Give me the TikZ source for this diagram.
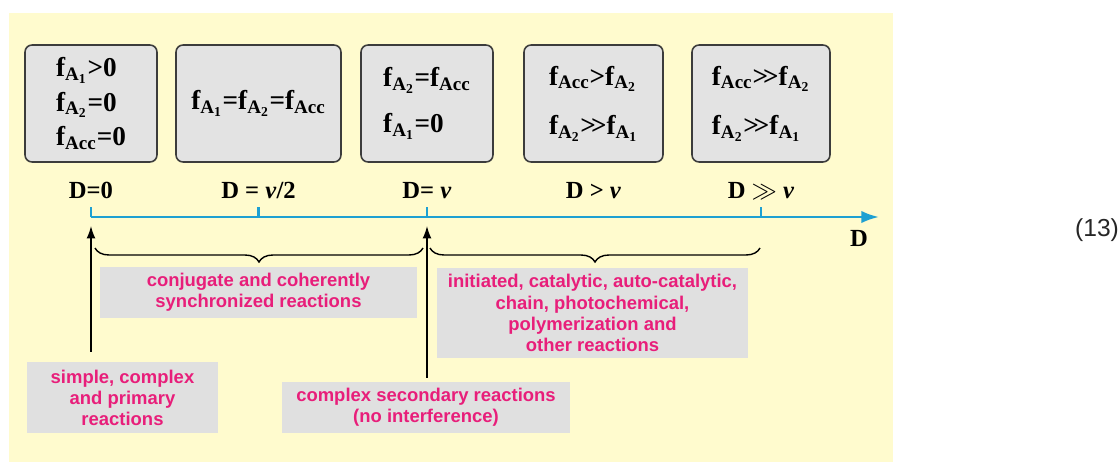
\documentclass[tikz,border=0pt]{standalone}
\usepackage{amsmath}
\usepackage{fontspec}
\setmainfont{Liberation Serif}
\setsansfont{Liberation Sans}
\usetikzlibrary{arrows.meta, positioning, decorations.pathreplacing, calc}
\definecolor{bgyellow}{RGB}{255, 251, 206}
\definecolor{boxgray}{RGB}{227, 227, 227}
\definecolor{edgegray}{RGB}{60, 60, 60}
\definecolor{taggray}{RGB}{224, 224, 224}
\definecolor{tagpink}{RGB}{232, 30, 122}
\definecolor{axisblue}{RGB}{30, 160, 210}
\newcommand{\fA}[1]{f$_{\text{A}_{\text{#1}}}$}
\newcommand{\fAcc}{f$_{\text{Acc}}$}
\newcommand{\gtgt}{>\kern-0.18em>}

\begin{document}
\begin{tikzpicture}[
  x=0.02cm, y=0.02cm,
  statebox/.style={draw=edgegray, line width=0.9pt, fill=boxgray, rounded corners=4pt,
    minimum height=2.34cm, inner sep=0pt, align=left,
    font=\fontsize{15.5}{19.5}\selectfont\bfseries},
  dlabel/.style={font=\fontsize{14}{16}\selectfont\bfseries},
  tag/.style={fill=taggray, text=tagpink, inner sep=0pt, align=center,
    font=\sffamily\bfseries\fontsize{10.5}{12}\selectfont},
  arrow/.style={-{Latex[length=7pt, width=5pt]}, line width=0.8pt},
  axis/.style={-{Latex[length=10pt, width=7pt]}, line width=1.4pt, color=axisblue},
  tick/.style={line width=1.2pt, color=axisblue},
  brace/.style={decorate, decoration={brace, mirror, amplitude=0.28cm}, line width=0.8pt}
]
\useasboundingbox (0,0) rectangle (1119,464);
\fill[bgyellow] (9,2) rectangle (893,451);

% State boxes
\node[statebox, minimum width=2.64cm] (s0) at (91,360.5) {\fA{1}>0\\\fA{2}=0\\\fAcc=0};
\node[statebox, minimum width=3.3cm] (s1) at (258.5,360.5) {\fA{1}=\fA{2}=\fAcc};
\node[statebox, minimum width=2.64cm] (s2) at (427,360.5) {\fA{2}=\fAcc\\[6.5pt]\fA{1}=0};
\node[statebox, minimum width=2.78cm] (s3) at (593.5,360.5) {\fAcc>\fA{2}\\[8.5pt]\fA{2}\gtgt\fA{1}};
\node[statebox, minimum width=2.76cm] (s4) at (761,360.5) {\fAcc\gtgt\fA{2}\\[8.5pt]\fA{2}\gtgt\fA{1}};

% D values
\node[dlabel, below=0.26cm of s0] (d0) {D=0};
\node[dlabel, below=0.26cm of s1] (d1) {D = \textit{v}/2};
\node[dlabel, below=0.26cm of s2] (d2) {D= \textit{v}};
\node[dlabel, below=0.26cm of s3] (d3) {D > \textit{v}};
\node[dlabel, below=0.26cm of s4] (d4) {D $\gg$ \textit{v}};

% Axis
\coordinate (ax0) at (91,247);
\coordinate (axend) at (879,247);
\draw[axis] (ax0) -- (axend);
\foreach \b in {s0, s1, s2, s4}
  \draw[tick] (\b |- ax0) -- ++(0,10);
\node[dlabel] (dax) at (859,226) {D};

% Reaction classes
\node[tag, minimum width=6.34cm, minimum height=1.02cm] (conj) at (258.5,171.5)
  {conjugate and coherently\\synchronized reactions};
\node[tag, minimum width=6.22cm, minimum height=1.8cm] (init) at (592.5,151)
  {initiated, catalytic, auto-catalytic,\\chain, photochemical,\\polymerization and\\other reactions};
\node[tag, minimum width=3.82cm, minimum height=1.42cm] (simple) at (122.5,66.5)
  {simple, complex\\and primary\\reactions};
\node[tag, minimum width=5.76cm, minimum height=1.02cm] (cplx) at (426,56.5)
  {complex secondary reactions\\(no interference)};

% Arrows
\coordinate (up0) at (91,238);
\coordinate (up1) at (427,238);
\draw[arrow] ($(simple.north -| up0)+(0,10)$) -- (up0);
\draw[arrow] ($(cplx.north -| up1)+(0,4)$) -- (up1);

% Braces
\coordinate (br0) at (95,216);
\coordinate (br1) at (423,216);
\coordinate (br2) at (430,216);
\coordinate (br3) at (760,216);
\draw[brace] (br0) -- (br1);
\draw[brace] (br2) -- (br3);

% Equation number
\node[font=\sffamily\fontsize{14}{16}\selectfont, text=black!85] (eqno) at (1097,234) {(13)};

\end{tikzpicture}
\end{document}
